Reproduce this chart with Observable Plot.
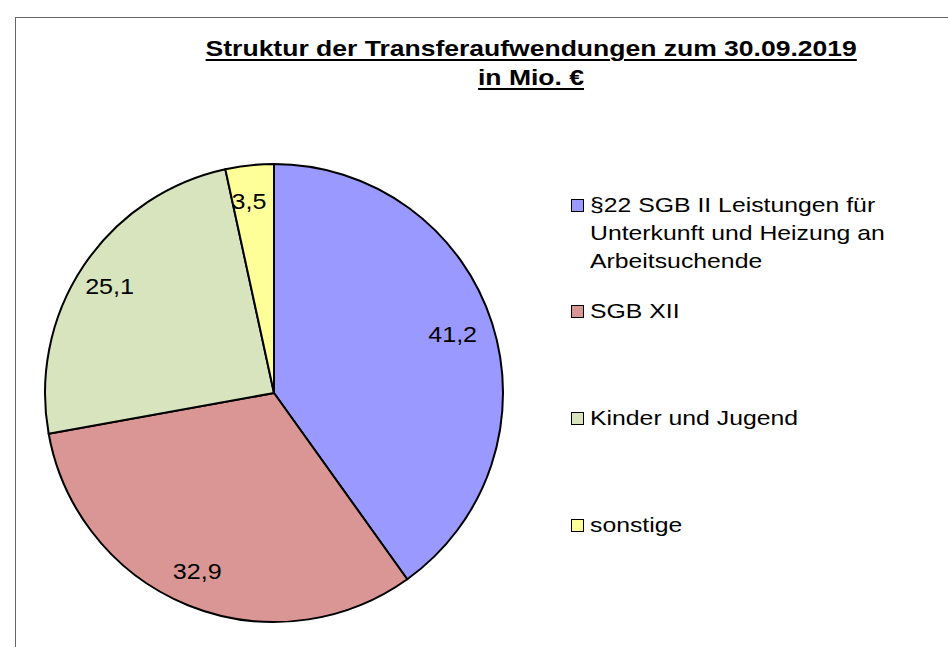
<!DOCTYPE html>
<html><head><meta charset="utf-8">
<script src="https://cdn.jsdelivr.net/npm/d3@7"></script>
<script src="https://cdn.jsdelivr.net/npm/@observablehq/plot@0.6"></script>
<style>
body{margin:0;background:#fff;font-family:"Liberation Sans",Arial,sans-serif;}
#wrap{position:relative;width:948px;height:647px;overflow:hidden;background:#fff;}
#frame{position:absolute;left:15px;top:17px;width:1000px;height:700px;border:1px solid #666;}
#chart{position:absolute;left:0;top:0;}
#chart svg{background:transparent !important;}
#title{position:absolute;left:131px;width:800px;top:34px;text-align:center;font-weight:bold;font-size:22px;line-height:29px;color:#000;}
#title span{display:inline-block;transform:scaleX(1.205);transform-origin:center;text-decoration:underline;text-decoration-thickness:2px;text-underline-offset:3px;}
.item{position:absolute;left:571px;font-size:21px;line-height:28px;color:#000;}
.sw{position:absolute;left:0;top:8px;width:11px;height:11px;border:1.5px solid #000;}
.txt{position:absolute;left:19px;top:0;white-space:nowrap;transform:scaleX(1.18);transform-origin:left top;}
</style>
</head><body>
<div id="wrap">
  <div id="frame"></div>
  <div id="chart"></div>
  <div id="title"></div>
  <div id="legend"></div>
</div>
<script>
// ---- data ----
const titleLines = ["Struktur der Transferaufwendungen zum 30.09.2019", "in Mio. €"];
const categories = ["§22 SGB II Leistungen für Unterkunft und Heizung an Arbeitsuchende", "SGB XII", "Kinder und Jugend", "sonstige"];
const legendLines = [["§22 SGB II Leistungen für", "Unterkunft und Heizung an", "Arbeitsuchende"], ["SGB XII"], ["Kinder und Jugend"], ["sonstige"]];
const values = [41.2, 32.9, 25.1, 3.5];
const valueLabels = ["41,2", "32,9", "25,1", "3,5"];
const colors = ["#9999FF", "#DA9694", "#D7E4BD", "#FFFF99"];
const legendTops = [191, 297, 404, 511];

// ---- title ----
document.getElementById("title").innerHTML = titleLines.map(t => `<span>${t}</span>`).join("<br>");

// ---- legend ----
const legend = document.getElementById("legend");
categories.forEach((c, i) => {
  const d = document.createElement("div");
  d.className = "item";
  d.style.top = legendTops[i] + "px";
  d.innerHTML = `<div class="sw" style="background:${colors[i]}"></div><div class="txt">${legendLines[i].join("<br>")}</div>`;
  legend.appendChild(d);
});

// ---- pie ----
const arcs = d3.pie().sort(null).value(d => d.value)(
  categories.map((c, i) => ({category: c, value: values[i], label: valueLabels[i], color: colors[i]}))
);
const labelRadius = 0.84;
const labelData = arcs.map(a => {
  const m = (a.startAngle + a.endAngle) / 2;
  return {x: labelRadius * Math.sin(m), y: labelRadius * Math.cos(m), label: a.data.label};
});

const plot = Plot.plot({
  width: 948,
  height: 647,
  marginLeft: 45,
  marginRight: 445,
  marginTop: 164,
  marginBottom: 25,
  x: {domain: [-1, 1], axis: null},
  y: {domain: [-1, 1], axis: null},
  style: {background: "transparent"},
  marks: [
    (index, scales) => {
      const {x, y} = scales;
      const cx = x(0), cy = y(0), r = x(1) - x(0);
      const arc = d3.arc().innerRadius(0).outerRadius(r);
      const g = d3.create("svg:g").attr("transform", `translate(${cx},${cy})`);
      g.selectAll("path").data(arcs).join("path")
        .attr("d", arc)
        .attr("fill", d => d.data.color)
        .attr("stroke", "#000")
        .attr("stroke-width", 2)
        .attr("stroke-linejoin", "round");
      return g.node();
    },
    Plot.text(labelData, {x: "x", y: "y", text: "label", dx: -5, fontSize: 22, fontFamily: "Liberation Sans, Arial, sans-serif", fill: "#000", className: "pielabel"})
  ]
});
// stretch labels horizontally like the original
d3.select(plot).selectAll("g.pielabel text").each(function() {
  const t = this.getAttribute("transform") || "";
  this.setAttribute("transform", t + " scale(1.14,1)");
});
document.getElementById("chart").appendChild(plot);
</script>
</body></html>
